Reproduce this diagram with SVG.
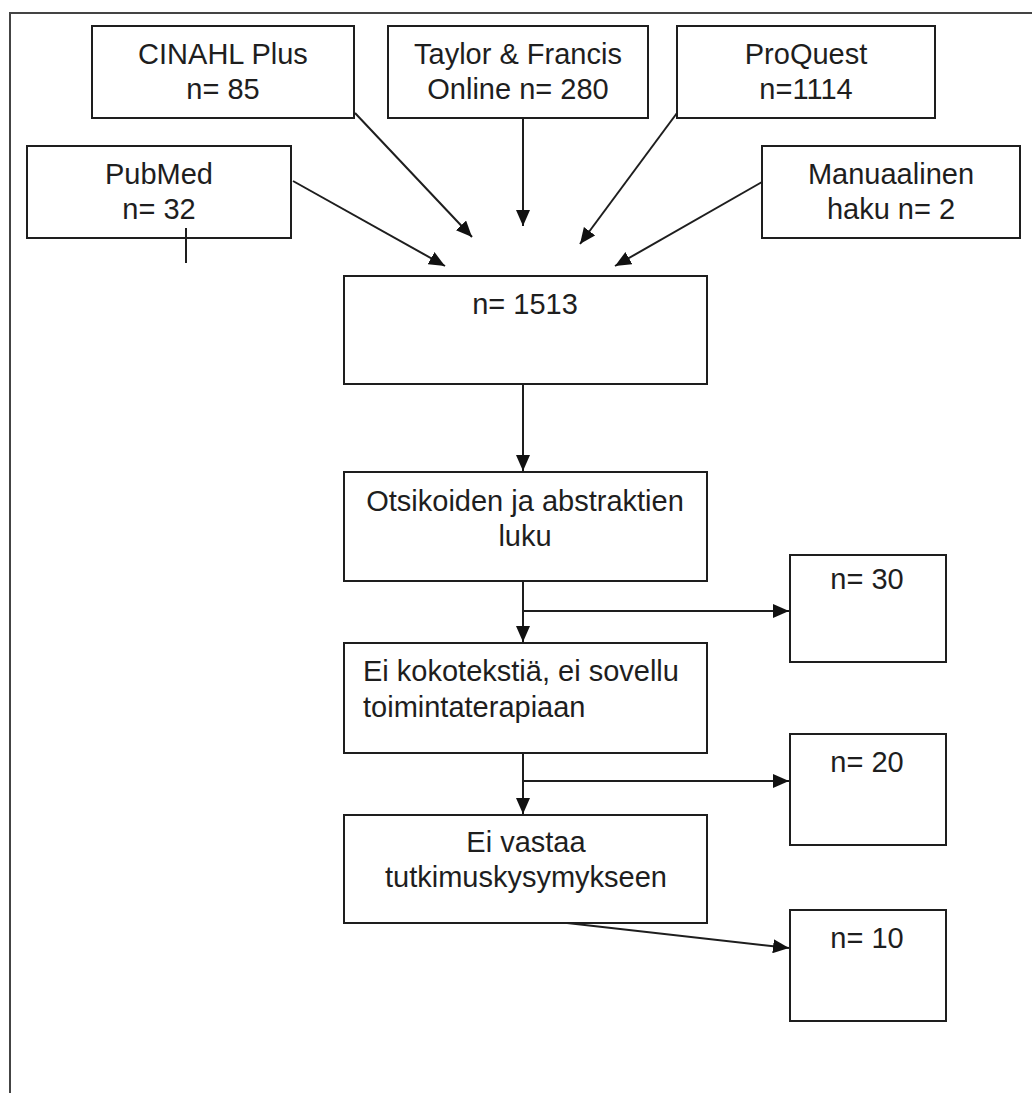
<svg xmlns="http://www.w3.org/2000/svg" width="1032" height="1093" viewBox="0 0 1032 1093">
<style>
.box{fill:#fff;stroke:#1e1e1e;stroke-width:2}
.t{font-family:"Liberation Sans",Arial,sans-serif;font-size:29px;fill:#1e1e1e;text-anchor:middle}
.l{text-anchor:start}
.c{stroke:#1e1e1e;stroke-width:2;fill:none}
</style>
<defs>
<marker id="ah" markerUnits="userSpaceOnUse" markerWidth="16" markerHeight="14" refX="16" refY="7" orient="auto">
<path d="M0,0 L16,7 L0,14 z" fill="#111"/>
</marker>
</defs>
<rect width="1032" height="1093" fill="#fff"/>
<path d="M10,1093 V13 H1032" fill="none" stroke="#444" stroke-width="2"/>
<g id="cinahl"><rect class="box" x="92" y="26" width="262" height="92"/><text class="t" x="223" y="64">CINAHL Plus</text><text class="t" x="223" y="99">n= 85</text></g>
<g id="taylor"><rect class="box" x="388" y="26" width="260" height="92"/><text class="t" x="518" y="64">Taylor &amp; Francis</text><text class="t" x="518" y="99">Online n= 280</text></g>
<g id="proquest"><rect class="box" x="677" y="26" width="258" height="92"/><text class="t" x="806" y="64">ProQuest</text><text class="t" x="806" y="99">n=1114</text></g>
<g id="pubmed"><rect class="box" x="27" y="146" width="264" height="92"/><text class="t" x="159" y="184">PubMed</text><text class="t" x="159" y="219">n= 32</text></g>
<g id="manuaalinen"><rect class="box" x="762" y="146" width="258" height="92"/><text class="t" x="891" y="184">Manuaalinen</text><text class="t" x="891" y="219">haku n= 2</text></g>
<g id="total"><rect class="box" x="344" y="276" width="363" height="108"/><text class="t" x="525" y="314">n= 1513</text></g>
<g id="otsikot"><rect class="box" x="344" y="472" width="363" height="109"/><text class="t" x="525" y="511">Otsikoiden ja abstraktien</text><text class="t" x="525" y="546">luku</text></g>
<g id="kokoteksti"><rect class="box" x="344" y="643" width="363" height="110"/><text class="t l" x="363" y="681">Ei kokotekstiä, ei sovellu</text><text class="t l" x="363" y="717">toimintaterapiaan</text></g>
<g id="eivastaa"><rect class="box" x="344" y="815" width="363" height="108"/><text class="t" x="526" y="852">Ei vastaa</text><text class="t" x="526" y="887">tutkimuskysymykseen</text></g>
<g id="n30"><rect class="box" x="790" y="555" width="156" height="107"/><text class="t" x="867" y="589">n= 30</text></g>
<g id="n20"><rect class="box" x="790" y="734" width="156" height="111"/><text class="t" x="867" y="772">n= 20</text></g>
<g id="n10"><rect class="box" x="790" y="910" width="156" height="111"/><text class="t" x="867" y="948">n= 10</text></g>
<g id="connectors">
<line class="c" x1="355" y1="113" x2="472" y2="237" marker-end="url(#ah)"/>
<line class="c" x1="293" y1="181" x2="445" y2="266" marker-end="url(#ah)"/>
<line class="c" x1="523" y1="118" x2="523" y2="226" marker-end="url(#ah)"/>
<line class="c" x1="677" y1="113" x2="580" y2="244" marker-end="url(#ah)"/>
<line class="c" x1="762" y1="182" x2="615" y2="266" marker-end="url(#ah)"/>
<line class="c" x1="186" y1="228" x2="186" y2="263"/>
<line class="c" x1="523" y1="384" x2="523" y2="471" marker-end="url(#ah)"/>
<line class="c" x1="523" y1="581" x2="523" y2="642" marker-end="url(#ah)"/>
<line class="c" x1="523" y1="611" x2="789" y2="611" marker-end="url(#ah)"/>
<line class="c" x1="523" y1="753" x2="523" y2="814" marker-end="url(#ah)"/>
<line class="c" x1="523" y1="781" x2="789" y2="781" marker-end="url(#ah)"/>
<line class="c" x1="567" y1="923" x2="789" y2="948" marker-end="url(#ah)"/>
</g>
</svg>
